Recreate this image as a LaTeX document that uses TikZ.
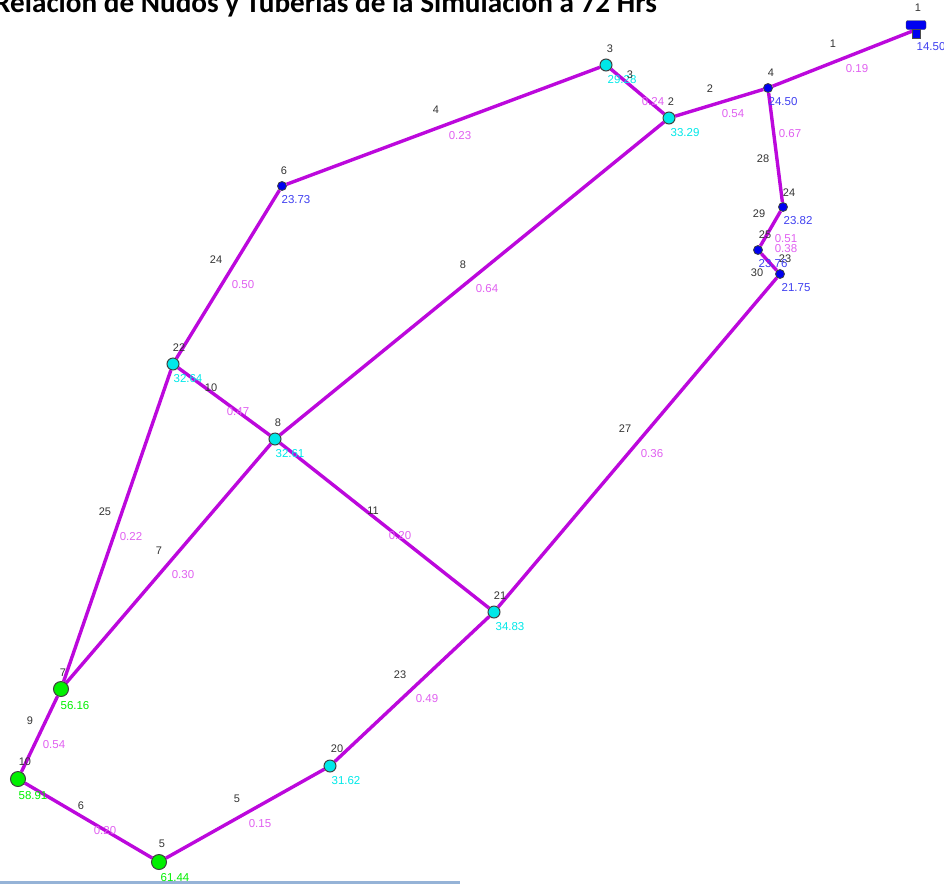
\documentclass[tikz,border=0pt]{standalone}
\usepackage{fontspec}
\setmainfont{Liberation Sans}
\newfontfamily\titlefont{Carlito}
\usetikzlibrary{backgrounds}
\definecolor{cpipe}{HTML}{BC08DC}
\definecolor{cflow}{HTML}{E060F0}
\definecolor{cblue}{HTML}{0000F0}
\definecolor{ccyan}{HTML}{00E8E8}
\definecolor{cgreen}{HTML}{00F000}
\definecolor{cpress}{HTML}{4040F0}
\definecolor{cbar}{HTML}{95B3D7}
\tikzset{
  every picture/.style={x=1pt, y=-1pt},
  junc/.style={circle, draw=black!75, fill=#1, line width=1pt, inner sep=0pt, minimum size=12pt},
  junc/.default=ccyan,
  smalljunc/.style={circle, draw=black!75, fill=cblue, line width=0.8pt, inner sep=0pt, minimum size=9pt},
  bigjunc/.style={circle, draw=black!75, fill=cgreen, line width=1pt, inner sep=0pt, minimum size=15pt},
  pipe/.style={draw=cpipe, line width=3.4pt},
  idlbl/.style={font=\fontsize{11}{11}\selectfont, text=black!80, inner sep=0pt},
  flowlbl/.style={font=\fontsize{11.5}{11.5}\selectfont, text=cflow, inner sep=0pt},
  presslbl/.style={font=\fontsize{11.5}{11.5}\selectfont, text=#1, inner sep=0pt},
}

\begin{document}
\begin{tikzpicture}
  \useasboundingbox (0,0) rectangle (944,884);
  \clip (0,0) rectangle (944,884);
  \node[font=\titlefont\bfseries\fontsize{29.2}{29.2}\selectfont, anchor=base west, inner sep=0pt] (title) at (-6,12.5) {Relación de Nudos y Tuberías de la Simulación a 72 Hrs};
  \fill[cbar] (0,881) rectangle (460,884);
  % tank
  \node[draw=black!70, fill=cblue, rounded corners=2pt, minimum width=20pt, minimum height=9pt, inner sep=0pt] (T1top) at (916,25) {};
  \node[draw=black!70, fill=cblue, minimum width=8pt, minimum height=9pt, inner sep=0pt] (T1) at (916,34) {};
  % junctions
  \node[smalljunc] (N4) at (768,88) {};
  \node[junc] (N2) at (669,118) {};
  \node[junc] (N3) at (606,65) {};
  \node[smalljunc] (N6) at (282,186) {};
  \node[smalljunc] (N24) at (783,207) {};
  \node[smalljunc] (N25) at (758,250) {};
  \node[smalljunc] (N23) at (780,274) {};
  \node[junc] (N22) at (173,364) {};
  \node[junc] (N8) at (275,439) {};
  \node[junc] (N21) at (494,612) {};
  \node[junc] (N20) at (330,766) {};
  \node[bigjunc] (N7) at (61,689) {};
  \node[bigjunc] (N10) at (18,779) {};
  \node[bigjunc] (N5) at (159,862) {};
  % pipes
  \begin{scope}[on background layer]
    \draw[pipe] (T1top.south) -- (N4);
    \draw[pipe] (N4) -- (N2);
    \draw[pipe] (N2) -- (N3);
    \draw[pipe] (N3) -- (N6);
    \draw[pipe] (N6) -- (N22);
    \draw[pipe] (N2) -- (N8);
    \draw[pipe] (N22) -- (N8);
    \draw[pipe] (N8) -- (N21);
    \draw[pipe] (N21) -- (N23);
    \draw[pipe] (N21) -- (N20);
    \draw[pipe] (N20) -- (N5);
    \draw[pipe] (N5) -- (N10);
    \draw[pipe] (N10) -- (N7);
    \draw[pipe] (N7) -- (N22);
    \draw[pipe] (N7) -- (N8);
    \draw[pipe] (N4) -- (N24);
    \draw[pipe] (N24) -- (N25);
    \draw[pipe] (N25) -- (N23);
  \end{scope}
  % junction ids
  \node[idlbl] (i1) at (918,8) {1};
  \node[idlbl] (i4) at (771,73) {4};
  \node[idlbl] (i2) at (671,102) {2};
  \node[idlbl] (i3) at (610,49) {3};
  \node[idlbl] (i6) at (284,171) {6};
  \node[idlbl] (i24) at (789,193) {24};
  \node[idlbl] (i25) at (765,235) {25};
  \node[idlbl] (i23) at (785,259) {23};
  \node[idlbl] (i22) at (179,348) {22};
  \node[idlbl] (i8) at (278,423) {8};
  \node[idlbl] (i21) at (500,596) {21};
  \node[idlbl] (i20) at (337,749) {20};
  \node[idlbl] (i7) at (63,673) {7};
  \node[idlbl] (i10) at (25,762) {10};
  \node[idlbl] (i5) at (162,844) {5};
  % pressures
  \node[presslbl=cpress] (p1) at (931,47) {14.50};
  \node[presslbl=cpress] (p4) at (783,102) {24.50};
  \node[presslbl=ccyan] (p2) at (685,133) {33.29};
  \node[presslbl=ccyan] (p3) at (622,80) {29.28};
  \node[presslbl=cpress] (p6) at (296,200) {23.73};
  \node[presslbl=cpress] (p24) at (798,221) {23.82};
  \node[presslbl=cpress] (p25) at (773,264) {23.76};
  \node[presslbl=cpress] (p23) at (796,288) {21.75};
  \node[presslbl=ccyan] (p22) at (188,379) {32.64};
  \node[presslbl=ccyan] (p8) at (290,454) {32.61};
  \node[presslbl=ccyan] (p21) at (510,627) {34.83};
  \node[presslbl=ccyan] (p20) at (346,781) {31.62};
  \node[presslbl=cgreen] (p7) at (75,706) {56.16};
  \node[presslbl=cgreen] (p10) at (33,796) {58.91};
  \node[presslbl=cgreen] (p5) at (175,878) {61.44};
  % pipe ids
  \node[idlbl] (e1) at (833,44) {1};
  \node[idlbl] (e2) at (710,89) {2};
  \node[idlbl] (e3) at (630,75) {3};
  \node[idlbl] (e4) at (436,110) {4};
  \node[idlbl] (e24) at (216,260) {24};
  \node[idlbl] (e8) at (463,265) {8};
  \node[idlbl] (e10) at (211,388) {10};
  \node[idlbl] (e11) at (373,511) {11};
  \node[idlbl] (e27) at (625,429) {27};
  \node[idlbl] (e25) at (105,512) {25};
  \node[idlbl] (e7) at (159,551) {7};
  \node[idlbl] (e23) at (400,675) {23};
  \node[idlbl] (e9) at (30,721) {9};
  \node[idlbl] (e6) at (81,806) {6};
  \node[idlbl] (e5) at (237,799) {5};
  \node[idlbl] (e28) at (763,159) {28};
  \node[idlbl] (e29) at (759,214) {29};
  \node[idlbl] (e30) at (757,273) {30};
  % pipe flows
  \node[flowlbl] (f1) at (857,69) {0.19};
  \node[flowlbl] (f2) at (733,114) {0.54};
  \node[flowlbl] (f3) at (653,102) {0.24};
  \node[flowlbl] (f4) at (460,136) {0.23};
  \node[flowlbl] (f24) at (243,285) {0.50};
  \node[flowlbl] (f8) at (487,289) {0.64};
  \node[flowlbl] (f10) at (238,412) {0.47};
  \node[flowlbl] (f11) at (400,536) {0.20};
  \node[flowlbl] (f27) at (652,454) {0.36};
  \node[flowlbl] (f25) at (131,537) {0.22};
  \node[flowlbl] (f7) at (183,575) {0.30};
  \node[flowlbl] (f23) at (427,699) {0.49};
  \node[flowlbl] (f9) at (54,745) {0.54};
  \node[flowlbl] (f6) at (105,831) {0.20};
  \node[flowlbl] (f5) at (260,824) {0.15};
  \node[flowlbl] (f28) at (790,134) {0.67};
  \node[flowlbl] (f29) at (786,239) {0.51};
  \node[flowlbl] (f30) at (786,249) {0.38};
\end{tikzpicture}
\end{document}
